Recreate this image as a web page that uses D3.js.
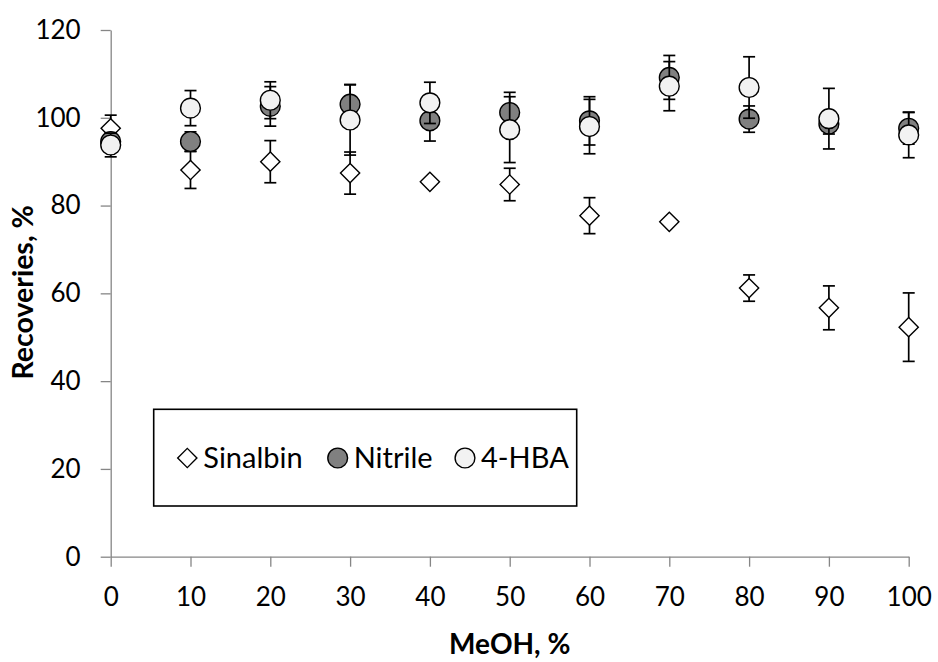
<!DOCTYPE html>
<html>
<head>
<meta charset="utf-8">
<script src="https://cdn.jsdelivr.net/npm/d3@7"></script>
<style>
  body { margin: 0; background: #fff; }
  text { font-family: Lato, "Open Sans", sans-serif; fill: #000; }
</style>
</head>
<body>
<svg id="chart" width="938" height="662"></svg>
<script>
// MeOH content (%) and recoveries (%) with error bar half-widths
const meoh = [0, 10, 20, 30, 40, 50, 60, 70, 80, 90, 100];
const sinalbin = [97.6, 88.1, 90.0, 87.4, 85.4, 84.8, 77.7, 76.3, 61.2, 56.7, 52.3];
const sinalbinErr = [3.0, 4.2, 4.8, 4.8, 0, 3.7, 4.1, 0, 3.0, 5.0, 7.8];
const nitrile = [94.6, 94.6, 102.6, 103.1, 99.3, 101.2, 99.3, 109.2, 99.7, 98.6, 97.6];
const nitrileErr = [2.0, 2.2, 4.5, 4.5, 4.6, 4.6, 5.5, 5.0, 3.0, 2.3, 3.6];
const hba = [93.8, 102.2, 104.0, 99.5, 103.4, 97.3, 98.0, 107.2, 106.9, 99.8, 96.1];
const hbaErr = [2.7, 4.0, 4.2, 8.0, 4.7, 7.5, 6.2, 5.6, 7.0, 6.9, 5.2];
const xTicks = [0, 10, 20, 30, 40, 50, 60, 70, 80, 90, 100];
const yTicks = [0, 20, 40, 60, 80, 100, 120];

const series = [
  { name: "Sinalbin", values: sinalbin, err: sinalbinErr, shape: "diamond", fill: "#ffffff" },
  { name: "Nitrile", values: nitrile, err: nitrileErr, shape: "circle", fill: "#808080" },
  { name: "4-HBA", values: hba, err: hbaErr, shape: "circle", fill: "#f2f2f2" }
];

const svg = d3.select("#chart");
const x = d3.scaleLinear().domain([0, 100]).range([110.7, 908.7]);
const y = d3.scaleLinear().domain([0, 120]).range([556.7, 30]);

const axisColor = "#868686";

const xAxis = svg.append("g")
  .attr("transform", `translate(0,${y(0)})`)
  .call(d3.axisBottom(x).tickValues(xTicks).tickSize(10).tickSizeOuter(0).tickPadding(21));
const yAxis = svg.append("g")
  .attr("transform", `translate(${x(0)},0)`)
  .call(d3.axisLeft(y).tickValues(yTicks).tickSize(10).tickSizeOuter(0).tickPadding(20));

[xAxis, yAxis].forEach(g => {
  g.select(".domain").attr("stroke", axisColor).attr("stroke-width", 1.3);
  g.selectAll(".tick line").attr("stroke", axisColor).attr("stroke-width", 1.3);
  g.selectAll(".tick text")
    .attr("fill", "#000")
    .style("font-family", "Lato, 'Open Sans', sans-serif")
    .style("font-size", "26px");
});

// axis titles
svg.append("text")
  .attr("x", x(50))
  .attr("y", 654)
  .attr("text-anchor", "middle")
  .style("font-size", "28px")
  .style("font-weight", "bold")
  .text("MeOH, %");

svg.append("text")
  .attr("transform", `translate(33,${y(60) - 1}) rotate(-90)`)
  .attr("text-anchor", "middle")
  .style("font-size", "28.5px")
  .style("font-weight", "bold")
  .text("Recoveries, %");

const diamond = d3.symbol(d3.symbolSquare, 185);
const circleR = 9.9;
const capHalf = 6;

function drawMarker(g, s, cx, cy) {
  if (s.shape === "diamond") {
    g.append("path")
      .attr("d", diamond())
      .attr("transform", `translate(${cx},${cy}) rotate(45)`)
      .attr("fill", s.fill)
      .attr("stroke", "#000")
      .attr("stroke-width", 1.4);
  } else {
    g.append("circle")
      .attr("cx", cx)
      .attr("cy", cy)
      .attr("r", circleR)
      .attr("fill", s.fill)
      .attr("stroke", "#000")
      .attr("stroke-width", 1.4);
  }
}

series.forEach(s => {
  const g = svg.append("g");
  meoh.forEach((m, i) => {
    const v = s.values[i];
    const e = s.err[i];
    const cx = x(m);
    if (e > 0) {
      const eb = g.append("g").attr("stroke", "#000").attr("stroke-width", 1.7);
      eb.append("line").attr("x1", cx).attr("x2", cx).attr("y1", y(v - e)).attr("y2", y(v + e));
      eb.append("line").attr("x1", cx - capHalf).attr("x2", cx + capHalf).attr("y1", y(v + e)).attr("y2", y(v + e));
      eb.append("line").attr("x1", cx - capHalf).attr("x2", cx + capHalf).attr("y1", y(v - e)).attr("y2", y(v - e));
    }
  });
  meoh.forEach((m, i) => drawMarker(g, s, x(m), y(s.values[i])));
});

// legend
const legend = svg.append("g");
legend.append("rect")
  .attr("x", 153.7).attr("y", 409.3)
  .attr("width", 423).attr("height", 96.7)
  .attr("fill", "#fff")
  .attr("stroke", "#000")
  .attr("stroke-width", 1.6);

const legendX = [187.3, 337.7, 465];
series.forEach((s, i) => {
  drawMarker(legend, s, legendX[i], 458);
  legend.append("text")
    .attr("x", legendX[i] + 16)
    .attr("y", 467.5)
    .style("font-size", "29px")
    .text(s.name);
});
</script>
</body>
</html>
